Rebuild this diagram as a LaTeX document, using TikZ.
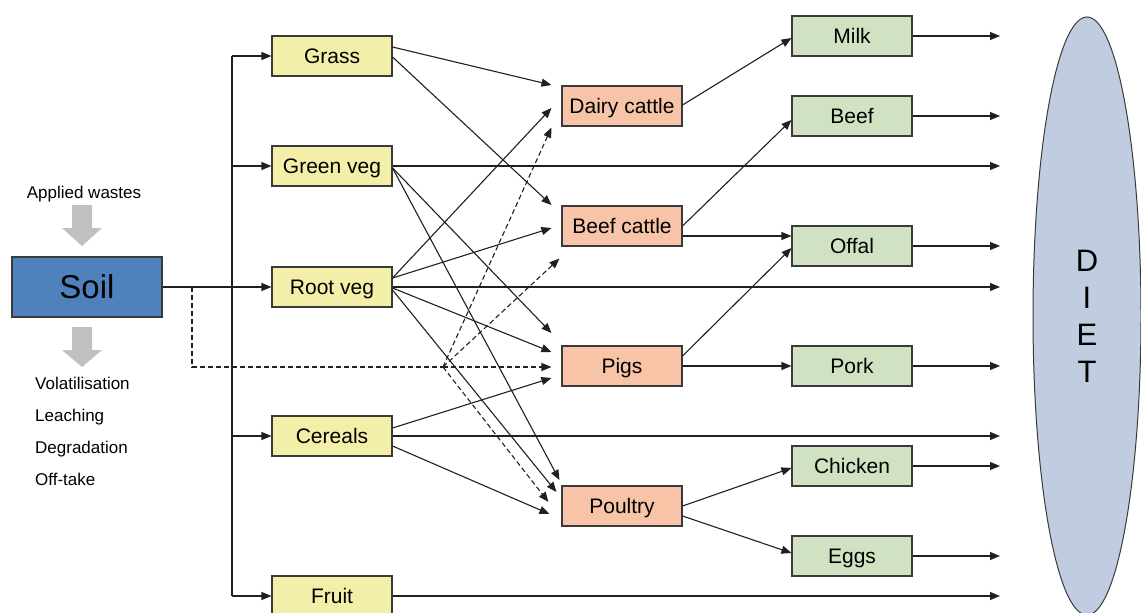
\documentclass[tikz,border=0pt]{standalone}
\usepackage{fontspec}
\setmainfont{Liberation Sans}
\usetikzlibrary{arrows.meta,calc,shapes.geometric}

\definecolor{soilblue}{HTML}{4F81BD}
\definecolor{cropyellow}{HTML}{F3EFA9}
\definecolor{animalorange}{HTML}{F7C4A8}
\definecolor{prodgreen}{HTML}{D0E2C2}
\definecolor{dietblue}{HTML}{C0CDE0}
\definecolor{wastegray}{HTML}{C0C0C0}
\definecolor{edgegray}{HTML}{3A3A3A}
\definecolor{linegray}{HTML}{202020}

\begin{document}
\begin{tikzpicture}[x=1pt,y=-1pt,
  box/.style={draw=edgegray,line width=1.1pt,minimum width=120pt,minimum height=40pt,inner sep=0pt,text height=15pt,text depth=0pt,font=\fontsize{21}{25}\selectfont},
  crop/.style={box,fill=cropyellow},
  animal/.style={box,fill=animalorange},
  product/.style={box,fill=prodgreen},
  link/.style={line width=1.1pt,draw=linegray},
  flow/.style={link,-{Triangle[length=10pt,width=8pt]}},
  dlink/.style={link,dash pattern=on 5pt off 3pt},
  dflow/.style={flow,dash pattern=on 5pt off 3pt},
  lbl/.style={font=\fontsize{17}{20}\selectfont,inner sep=0pt},
  wastearrow/.style={fill=wastegray,draw=none},
]
\useasboundingbox (0,0) rectangle (1141,613);

% DIET ellipse
\node[ellipse,draw=edgegray,line width=1pt,fill=dietblue,minimum width=108pt,minimum height=598pt,inner sep=0pt,align=center,font=\fontsize{31}{37}\selectfont] (diet) at (1087,316) {D\\I\\E\\T};

% Soil and side texts
\node[draw=edgegray,line width=1.1pt,fill=soilblue,minimum width=150pt,minimum height=60pt,inner sep=0pt,text height=23pt,text depth=0pt,font=\fontsize{33}{38}\selectfont] (soil) at (87,287) {Soil};
\node[lbl,anchor=base] (applied) at (84,198) {Applied wastes};
\fill[wastearrow] (72,205) -- (92,205) -- (92,228) -- (102,228) -- (82,246) -- (62,228) -- (72,228) -- cycle;
\fill[wastearrow] (72,327) -- (92,327) -- (92,350) -- (102,350) -- (82,367) -- (62,350) -- (72,350) -- cycle;
\node[lbl,anchor=base west] (vol) at (35,389) {Volatilisation};
\node[lbl,anchor=base west] (leach) at (35,421) {Leaching};
\node[lbl,anchor=base west] (degr) at (35,453) {Degradation};
\node[lbl,anchor=base west] (offt) at (35,485) {Off-take};

% Crops
\node[crop] (grass) at (332,56) {Grass};
\node[crop] (greenveg) at (332,166) {Green veg};
\node[crop] (rootveg) at (332,287) {Root veg};
\node[crop] (cereals) at (332,436) {Cereals};
\node[crop] (fruit) at (332,596) {Fruit};

% Animals
\node[animal] (dairy) at (622,106) {Dairy cattle};
\node[animal] (beefc) at (622,226) {Beef cattle};
\node[animal] (pigs) at (622,366) {Pigs};
\node[animal] (poultry) at (622,506) {Poultry};

% Products
\node[product] (milk) at (852,36) {Milk};
\node[product] (beef) at (852,116) {Beef};
\node[product] (offal) at (852,246) {Offal};
\node[product] (pork) at (852,366) {Pork};
\node[product] (chicken) at (852,466) {Chicken};
\node[product] (eggs) at (852,556) {Eggs};

% helper coordinates
\coordinate (trunk) at (232,0);
\coordinate (outx) at (1000,0);
\coordinate (dsplit) at (192,287);
\coordinate (dcorner) at (192,367);
\coordinate (dhub) at (443,367);

% Soil to crops
\draw[flow] (soil.east) -- (rootveg.west);
\draw[link] (trunk |- grass.west) -- (trunk |- fruit.west);
\draw[flow] (trunk |- grass.west) -- (grass.west);
\draw[flow] (trunk |- greenveg.west) -- (greenveg.west);
\draw[flow] (trunk |- cereals.west) -- (cereals.west);
\draw[flow] (trunk |- fruit.west) -- (fruit.west);

% Soil direct (dashed)
\draw[dlink] (dsplit) -- (dcorner) -- (dhub);
\draw[dflow] (dhub) -- ($(pigs.west)+(-10,1)$);
\draw[dflow] (dhub) -- ($(dairy.south west)+(-10,1)$);
\draw[dflow] (dhub) -- ($(beefc.south west)+(-2,12)$);
\draw[dflow] (dhub) -- ($(poultry.west)+(-13,-4)$);

% Crops to animals
\draw[flow] ($(grass.east)+(0,-9)$) -- ($(dairy.west)+(-10,-21)$);
\draw[flow] ($(grass.east)+(0,1)$) -- ($(beefc.west)+(-10,-21)$);
\draw[flow] ($(greenveg.east)+(0,2)$) -- ($(pigs.west)+(-10,-33)$);
\draw[flow] ($(greenveg.east)+(0,2)$) -- ($(poultry.west)+(-2,-26)$);
\draw[flow] ($(rootveg.east)+(0,-9)$) -- ($(dairy.west)+(-10,2)$);
\draw[flow] ($(rootveg.east)+(0,-9)$) -- ($(beefc.west)+(-10,2)$);
\draw[flow] ($(rootveg.east)+(0,1)$) -- ($(pigs.west)+(-10,-14)$);
\draw[flow] ($(rootveg.east)+(0,3)$) -- ($(poultry.west)+(-5,-14)$);
\draw[flow] ($(cereals.east)+(0,-8)$) -- ($(pigs.west)+(-10,12)$);
\draw[flow] ($(cereals.east)+(0,10)$) -- ($(poultry.west)+(-12,8)$);

% Animals to products
\draw[flow] ($(dairy.east)+(0,-1)$) -- ($(milk.west)+(0,2)$);
\draw[flow] (beefc.east) -- ($(beef.west)+(0,4)$);
\draw[flow] ($(beefc.east)+(0,10)$) -- ($(offal.west)+(0,-10)$);
\draw[flow] ($(pigs.east)+(0,-10)$) -- ($(offal.west)+(0,2)$);
\draw[flow] (pigs.east) -- (pork.west);
\draw[flow] (poultry.east) -- ($(chicken.west)+(0,2)$);
\draw[flow] ($(poultry.east)+(0,10)$) -- ($(eggs.west)+(0,-3)$);

% To diet
\draw[flow] (milk.east) -- (milk.east -| outx);
\draw[flow] (beef.east) -- (beef.east -| outx);
\draw[flow] (greenveg.east) -- (greenveg.east -| outx);
\draw[flow] (offal.east) -- (offal.east -| outx);
\draw[flow] (rootveg.east) -- (rootveg.east -| outx);
\draw[flow] (pork.east) -- (pork.east -| outx);
\draw[flow] (cereals.east) -- (cereals.east -| outx);
\draw[flow] (chicken.east) -- (chicken.east -| outx);
\draw[flow] (eggs.east) -- (eggs.east -| outx);
\draw[flow] (fruit.east) -- (fruit.east -| outx);
\end{tikzpicture}
\end{document}
